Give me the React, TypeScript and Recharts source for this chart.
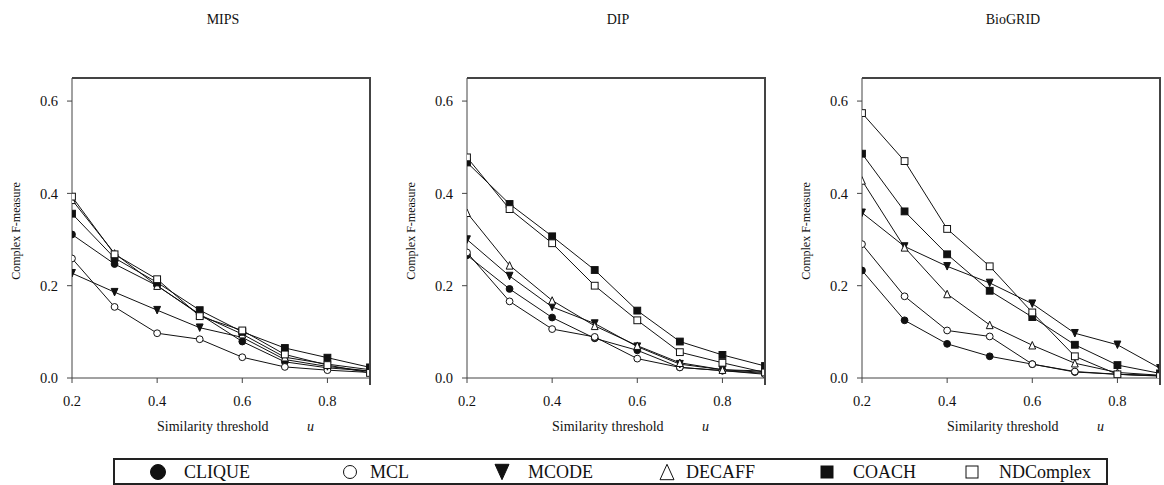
import * as React from "react";
import { LineChart, Line, XAxis, YAxis } from "recharts";

// similarity threshold u (x axis)
const thresholds = [0.2, 0.3, 0.4, 0.5, 0.6, 0.7, 0.8, 0.9];
const xTicks = [0.2, 0.4, 0.6, 0.8];
const yTicks = [0, 0.2, 0.4, 0.6];

// MIPS
const mipsClique = [0.311, 0.247, 0.2, 0.138, 0.079, 0.035, 0.022, 0.015];
const mipsMcl = [0.259, 0.154, 0.097, 0.084, 0.045, 0.024, 0.017, 0.012];
const mipsMcode = [0.227, 0.186, 0.147, 0.109, 0.088, 0.04, 0.025, 0.015];
const mipsDecaff = [0.386, 0.27, 0.2, 0.137, 0.095, 0.045, 0.03, 0.018];
const mipsCoach = [0.356, 0.26, 0.207, 0.147, 0.1, 0.065, 0.044, 0.023];
const mipsNdc = [0.393, 0.268, 0.214, 0.134, 0.103, 0.051, 0.028, 0.011];

// DIP
const dipClique = [0.266, 0.193, 0.131, 0.086, 0.06, 0.023, 0.016, 0.01];
const dipMcl = [0.272, 0.166, 0.106, 0.089, 0.042, 0.023, 0.016, 0.008];
const dipMcode = [0.3, 0.221, 0.154, 0.118, 0.068, 0.03, 0.018, 0.012];
const dipDecaff = [0.358, 0.244, 0.168, 0.113, 0.07, 0.033, 0.018, 0.015];
const dipCoach = [0.467, 0.377, 0.307, 0.234, 0.146, 0.079, 0.05, 0.026];
const dipNdc = [0.478, 0.366, 0.292, 0.2, 0.125, 0.056, 0.033, 0.012];

// BioGRID
const bioClique = [0.233, 0.125, 0.074, 0.047, 0.03, 0.013, 0.008, 0.005];
const bioMcl = [0.29, 0.177, 0.103, 0.09, 0.03, 0.014, 0.008, 0.005];
const bioMcode = [0.358, 0.285, 0.242, 0.206, 0.161, 0.097, 0.072, 0.021];
const bioDecaff = [0.428, 0.283, 0.182, 0.115, 0.071, 0.032, 0.012, 0.006];
const bioCoach = [0.486, 0.361, 0.268, 0.189, 0.132, 0.072, 0.028, 0.01];
const bioNdc = [0.574, 0.47, 0.323, 0.242, 0.142, 0.047, 0.008, 0.004];

type Shape = "circle" | "triangleDown" | "triangleUp" | "square";
const SERIES: { key: string; name: string; shape: Shape; filled: boolean }[] = [
  { key: "clique", name: "CLIQUE", shape: "circle", filled: true },
  { key: "mcl", name: "MCL", shape: "circle", filled: false },
  { key: "mcode", name: "MCODE", shape: "triangleDown", filled: true },
  { key: "decaff", name: "DECAFF", shape: "triangleUp", filled: false },
  { key: "coach", name: "COACH", shape: "square", filled: true },
  { key: "ndc", name: "NDComplex", shape: "square", filled: false },
];

const buildRows = (cols: number[][]) =>
  thresholds.map((u, i) => {
    const row: Record<string, number> = { u };
    SERIES.forEach((s, j) => (row[s.key] = cols[j][i]));
    return row;
  });

const PANELS = [
  { title: "MIPS", left: 0, rows: buildRows([mipsClique, mipsMcl, mipsMcode, mipsDecaff, mipsCoach, mipsNdc]) },
  { title: "DIP", left: 395, rows: buildRows([dipClique, dipMcl, dipMcode, dipDecaff, dipCoach, dipNdc]) },
  { title: "BioGRID", left: 790, rows: buildRows([bioClique, bioMcl, bioMcode, bioDecaff, bioCoach, bioNdc]) },
];

const FONT = '"Liberation Serif", "Times New Roman", serif';
const INK = "#111";
const AXIS = "#444";

function Marker({ shape, filled, cx, cy, r }: { shape: Shape; filled: boolean; cx: number; cy: number; r: number }) {
  const fill = filled ? INK : "#fff";
  const common = { fill, stroke: INK, strokeWidth: 1 };
  if (shape === "circle") return <circle cx={cx} cy={cy} r={r} {...common} />;
  if (shape === "square")
    return <rect x={cx - r} y={cy - r} width={2 * r} height={2 * r} {...common} />;
  const h = r * 1.1;
  const pts =
    shape === "triangleDown"
      ? `${cx - r},${cy - h} ${cx + r},${cy - h} ${cx},${cy + h}`
      : `${cx - r},${cy + h} ${cx + r},${cy + h} ${cx},${cy - h}`;
  return <polygon points={pts} {...common} />;
}

const makeDot = (shape: Shape, filled: boolean) => (props: any) => {
  const { cx, cy, index } = props;
  if (cx == null || cy == null) return <g key={index} />;
  return (
    <g key={index}>
      <Marker shape={shape} filled={filled} cx={cx} cy={cy} r={3.4} />
    </g>
  );
};

function Panel({ title, left, rows }: { title: string; left: number; rows: Record<string, number>[] }) {
  const plotLeft = left + 72;
  return (
    <>
      <div
        style={{
          position: "absolute",
          left: plotLeft + 151,
          top: 12,
          transform: "translateX(-50%)",
          fontSize: 14,
          lineHeight: "16px",
          color: INK,
          whiteSpace: "nowrap",
        }}
      >
        {title}
      </div>
      <div style={{ position: "absolute", left, top: 0 }}>
        <LineChart width={371} height={424} data={rows} margin={{ top: 78, right: 1, bottom: 0, left: 0 }}>
          <XAxis
            dataKey="u"
            type="number"
            domain={[0.2, 0.9]}
            ticks={xTicks}
            tickFormatter={(v: number) => v.toFixed(1)}
            stroke={AXIS}
            tick={{ fill: INK, fontSize: 14.5, fontFamily: FONT }}
            tickSize={5}
            tickMargin={13}
            height={46}
            allowDataOverflow
          />
          <YAxis
            type="number"
            domain={[0, 0.65]}
            ticks={yTicks}
            tickFormatter={(v: number) => v.toFixed(1)}
            stroke={AXIS}
            tick={{ fill: INK, fontSize: 14.5, fontFamily: FONT }}
            tickSize={5}
            tickMargin={9}
            width={72}
            allowDataOverflow
          />
          {SERIES.map((s) => (
            <Line
              key={s.key}
              dataKey={s.key}
              name={s.name}
              stroke={INK}
              strokeWidth={1}
              dot={makeDot(s.shape, s.filled)}
              activeDot={false}
              isAnimationActive={false}
            />
          ))}
        </LineChart>
      </div>
      {/* top and right edges of the plot frame */}
      <div
        style={{
          position: "absolute",
          left: plotLeft,
          top: 77,
          width: 299,
          height: 308,
          borderTop: `2px solid ${AXIS}`,
          borderRight: `2px solid ${AXIS}`,
          boxSizing: "border-box",
          zIndex: 2,
          pointerEvents: "none",
        }}
      />
      <div
        style={{
          position: "absolute",
          left: left + 16,
          top: 231,
          transform: "translate(-50%, -50%) rotate(-90deg)",
          fontSize: 12,
          color: INK,
          whiteSpace: "nowrap",
        }}
      >
        Complex F-measure
      </div>
      <div
        style={{
          position: "absolute",
          left: plotLeft + 85,
          top: 420,
          fontSize: 14,
          lineHeight: "14px",
          color: INK,
          whiteSpace: "nowrap",
        }}
      >
        Similarity threshold
      </div>
      <div
        style={{
          position: "absolute",
          left: plotLeft + 235,
          top: 420,
          fontSize: 14,
          lineHeight: "14px",
          fontStyle: "italic",
          color: INK,
        }}
      >
        u
      </div>
    </>
  );
}

const LEGEND_POS = [
  { marker: 158, text: 184 },
  { marker: 350, text: 370 },
  { marker: 502, text: 528 },
  { marker: 667, text: 686 },
  { marker: 827, text: 853 },
  { marker: 972, text: 999 },
];

function LegendBox() {
  return (
    <div
      style={{
        position: "absolute",
        left: 113,
        top: 458,
        width: 995,
        height: 27,
        border: "2px solid #222",
        boxSizing: "border-box",
      }}
    >
      {SERIES.map((s, i) => {
        const p = LEGEND_POS[i];
        return (
          <React.Fragment key={s.key}>
            <svg
              width={20}
              height={20}
              style={{ position: "absolute", left: p.marker - 113 - 2 - 10, top: 2 }}
            >
              <Marker
                shape={s.shape}
                filled={s.filled}
                cx={10}
                cy={10}
                r={s.shape === "square" ? 6 : s.shape === "circle" ? (s.filled ? 7.5 : 6.5) : 7}
              />
            </svg>
            <div
              style={{
                position: "absolute",
                left: p.text - 113 - 2,
                top: 1,
                fontSize: 18,
                lineHeight: "22px",
                color: INK,
                whiteSpace: "nowrap",
              }}
            >
              {s.name}
            </div>
          </React.Fragment>
        );
      })}
    </div>
  );
}

export default function App() {
  return (
    <div
      style={{
        position: "relative",
        width: 1164,
        height: 485,
        background: "#fff",
        fontFamily: FONT,
        overflow: "hidden",
      }}
    >
      <style>{"body{margin:0}"}</style>
      {PANELS.map((p) => (
        <Panel key={p.title} title={p.title} left={p.left} rows={p.rows} />
      ))}
      <LegendBox />
    </div>
  );
}
